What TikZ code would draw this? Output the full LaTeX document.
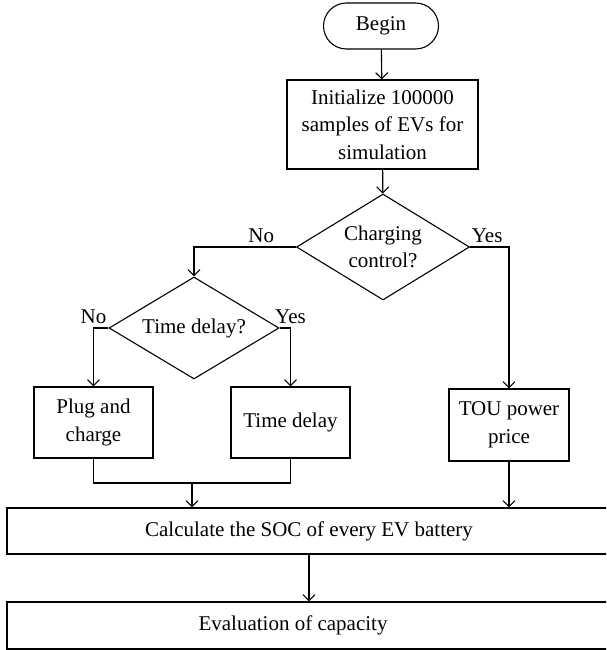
\documentclass[tikz,border=0pt]{standalone}
\usepackage{fontspec}
\setmainfont{Liberation Serif}
\usetikzlibrary{arrows.meta, positioning, shapes.geometric}

\begin{document}
\begin{tikzpicture}[
            x=1pt, y=-1pt,
            font=\fontsize{21}{27.5}\selectfont,
            line width=1.1pt,
            startstop/.style={ rectangle, draw, rounded corners=23pt, minimum width=115pt, minimum height=46pt, align=center },
            process/.style={ rectangle, draw, minimum width=119pt, minimum height=71pt, align=center, inner sep=2pt },
            widebox/.style={ rectangle, draw, minimum width=604pt, minimum height=47pt },
            decision/.style={ diamond, draw, aspect=1.65, inner sep=0pt, align=center },
            arrow/.style={ -{Straight Barb[length=6pt, width=12pt]} }
        ]
            \useasboundingbox (0,0) rectangle (606,650);
            \clip (0,0) rectangle (606,650);

            % Start and setup
            \node (begin) [startstop] at (381,26) {Begin};
            \node (init) [process, minimum width=191pt, minimum height=89pt] at (382.5,124.5) {Initialize 100000\\samples of EVs for\\simulation};

            % Decisions
            \node (control) [decision, minimum width=173pt, minimum height=106pt] at (383,247) {Charging\\control?};
            \node (delayq) [decision, minimum width=170pt, minimum height=102pt] at (194,328) {Time delay?};

            % Charging modes
            \node (plug) [process] at (93.5,422.5) {Plug and\\charge};
            \node (delay) [process] at (290.5,422.5) {Time delay};
            \node (tou) [process, minimum width=120pt, minimum height=72pt] at (509,425) {TOU power\\price};

            % Merge point
            \coordinate (join) at (192,483);

            % Wide boxes (cut by the right margin)
            \node (soc) [widebox, minimum height=46pt] at (309,531) {Calculate the SOC of every EV battery};
            \node (eval) [widebox] at (309,625.5) {};
            \node (evaltext) at (293,625.5) {Evaluation of capacity};

            % Arrows
            \draw[arrow] (begin) -- (init);
            \draw[arrow] (init) -- (control);
            \draw[arrow] (control.west) -| node[above, pos=0.17] {No} (delayq.north);
            \draw[arrow] (control.east) -| node[above, pos=0.22] {Yes} (tou.north);
            \draw[arrow] (delayq.west) -| node[above, pos=0.5] {No} (plug.north);
            \draw[arrow] (delayq.east) -| node[above, pos=0.5] {Yes} (delay.north);
            \draw (plug.south) |- (join) -| (delay.south);
            \draw[arrow] (join) -- (join |- soc.north);
            \draw[arrow] (tou.south) -- (tou.south |- soc.north);
            \draw[arrow] (soc) -- (eval);

        \end{tikzpicture}
\end{document}
